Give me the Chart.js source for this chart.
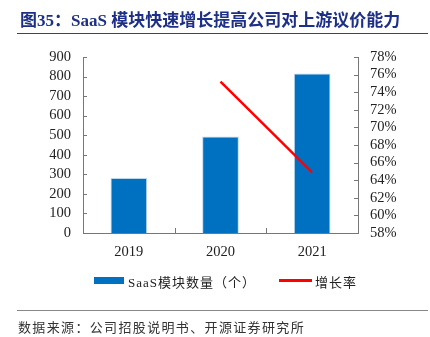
<!DOCTYPE html>
<html><head><meta charset="utf-8">
<script src="https://cdn.jsdelivr.net/npm/chart.js@4.4.1/dist/chart.umd.min.js"></script>
<style>
html,body{margin:0;padding:0;background:#fff;width:430px;height:337px;overflow:hidden;}
#wrap{position:relative;width:430px;height:337px;}
#c{position:absolute;left:0;top:0;}
.title{position:absolute;left:20px;top:6px;font-family:"Liberation Serif","Noto Sans CJK SC";font-weight:bold;font-size:17px;color:#1d2f86;white-space:nowrap;}
.rule{position:absolute;left:17px;width:411px;height:1px;background:#444;}
.src{position:absolute;left:18px;top:317px;font-family:"Noto Sans CJK SC";font-size:13px;color:#333;letter-spacing:1.35px;white-space:nowrap;}
.leg{position:absolute;top:272px;font-family:"Liberation Serif","Noto Sans CJK SC";font-size:13px;color:#222;white-space:nowrap;letter-spacing:1px;}
.sw{position:absolute;}
</style></head>
<body><div id="wrap">
<canvas id="c" width="430" height="337"></canvas>
<div class="title">图35：SaaS 模块快速增长提高公司对上游议价能力</div>
<div class="rule" style="top:33px"></div>
<div class="sw" style="left:94px;top:277px;width:30px;height:7px;background:#0070C0"></div>
<div class="leg" style="left:128px">SaaS模块数量（个）</div>
<div class="sw" style="left:279px;top:279px;width:33px;height:3px;background:#FF0000"></div>
<div class="leg" style="left:315px">增长率</div>
<div class="rule" style="top:310px;background:#888"></div>
<div class="src">数据来源：公司招股说明书、开源证券研究所</div>
</div>
<script>
const categories = ['2019','2020','2021'];
const moduleCounts = [281, 493, 815];
const growthRate = [null, 75.2, 64.9];
const leftTicks = [0,100,200,300,400,500,600,700,800,900];
const rightTicks = [58,60,62,64,66,68,70,72,74,76,78];

const tickFont = {family:'"Liberation Serif"', size:14.5};
const axisColor = '#777';

const innerTicks = {
  id:'innerTicks',
  afterDraw(chart){
    const ctx = chart.ctx;
    const {x, y, y1} = chart.scales;
    ctx.save();
    ctx.strokeStyle = axisColor;
    ctx.lineWidth = 1;
    ctx.beginPath();
    y.ticks.forEach(t=>{
      const py = Math.round(y.getPixelForValue(t.value))+0.5;
      ctx.moveTo(x.left, py); ctx.lineTo(x.left+4, py);
    });
    y1.ticks.forEach(t=>{
      const py = Math.round(y1.getPixelForValue(t.value))+0.5;
      ctx.moveTo(x.right, py); ctx.lineTo(x.right-4, py);
    });
    const n = categories.length;
    for(let i=1;i<n;i++){
      const px = Math.round((x.getPixelForValue(i-1)+x.getPixelForValue(i))/2)+0.5;
      ctx.moveTo(px, y.bottom); ctx.lineTo(px, y.bottom-5);
    }
    ctx.stroke();
    ctx.restore();
  }
};

new Chart(document.getElementById('c'), {
  data:{
    labels:categories,
    datasets:[
      {type:'line', label:'增长率', data:growthRate, yAxisID:'y1', borderColor:'#FF0000', borderWidth:2.5, pointRadius:0, fill:false, order:0},
      {type:'bar', label:'SaaS模块数量（个）', data:moduleCounts, yAxisID:'y', backgroundColor:'#0070C0', borderColor:'#BDD7EE', borderWidth:1, categoryPercentage:1, barPercentage:0.4, order:1}
    ]
  },
  options:{
    responsive:false, animation:false,
    layout:{padding:{top:57,bottom:74,left:0,right:0}},
    plugins:{legend:{display:false}, tooltip:{enabled:false}},
    scales:{
      x:{offset:true, grid:{display:false, drawTicks:false},
         border:{display:true,color:axisColor,width:1},
         ticks:{font:tickFont,color:'#222',padding:10},
         afterFit(s){s.height=30;}},
      y:{position:'left', min:0, max:900,
         afterBuildTicks(s){s.ticks = leftTicks.map(v=>({value:v}));},
         grid:{display:false, drawTicks:false},
         border:{display:true,color:axisColor,width:1},
         ticks:{font:tickFont,color:'#222',padding:12,autoSkip:false},
         afterFit(s){s.width=83;}},
      y1:{position:'right', min:58, max:78,
         afterBuildTicks(s){s.ticks = rightTicks.map(v=>({value:v}));},
         grid:{display:false, drawTicks:false},
         border:{display:true,color:axisColor,width:1},
         ticks:{font:tickFont,color:'#222',padding:12,autoSkip:false,callback:v=>v+'%'},
         afterFit(s){s.width=72;}}
    }
  },
  plugins:[innerTicks]
});
</script>
</body></html>
